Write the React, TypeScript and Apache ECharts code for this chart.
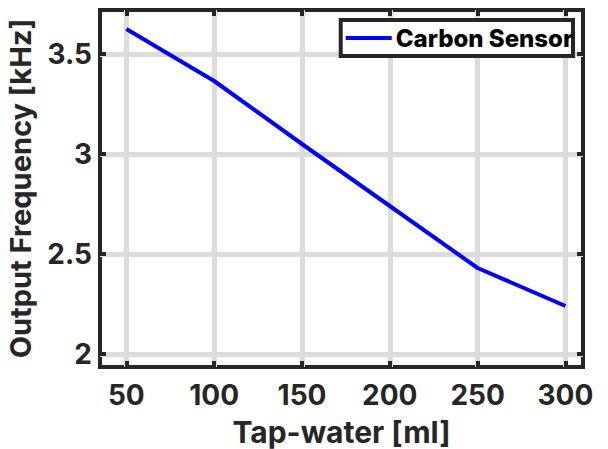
import React, { useEffect, useRef } from "react";
import * as echarts from "echarts";

const volumes = [50, 100, 150, 200, 250, 300];
const frequency = [3.625, 3.365, 3.05, 2.74, 2.43, 2.24];
const xTicks = [50, 100, 150, 200, 250, 300];
const yTicks = [2, 2.5, 3, 3.5];
const seriesName = "Carbon Sensor";

const FONT = "Inter";
const DARK = "#262626";
const GRID = "#dcdcdc";

export default function App() {
  const ref = useRef<HTMLDivElement>(null);
  useEffect(() => {
    const chart = echarts.init(ref.current!, null, { renderer: "svg" });
    const tick = (vals: number[]) => ({
      show: true,
      inside: true,
      length: 6,
      customValues: vals,
      lineStyle: { color: DARK, width: 4 },
    });
    chart.setOption({
      animation: false,
      backgroundColor: "#ffffff",
      grid: {
        left: 100,
        top: 10,
        width: 483,
        height: 357,
        show: true,
        borderColor: DARK,
        borderWidth: 4,
        backgroundColor: "transparent",
        outerBoundsMode: "none",
        containLabel: false,
      },
      legend: {
        data: [{ name: seriesName, icon: "rect" }],
        right: 35,
        top: 20,
        itemWidth: 46,
        itemHeight: 4,
        itemGap: 4,
        padding: [6, 0, 6, 5],
        borderColor: DARK,
        borderWidth: 4,
        backgroundColor: "#ffffff",
        borderRadius: 0,
        textStyle: { fontFamily: FONT, fontWeight: 800, fontSize: 24, color: "#000", padding: [0, 0, 0, -1] },
      },
      xAxis: [
        {
          type: "value",
          min: 35,
          max: 310,
          name: "Tap-water [ml]",
          nameLocation: "middle",
          nameGap: 50,
          nameTextStyle: { fontFamily: FONT, fontWeight: "bold", fontSize: 30, color: DARK },
          axisLine: { show: false },
          axisTick: tick(xTicks),
          axisLabel: {
            customValues: xTicks,
            margin: 14,
            fontFamily: FONT,
            fontWeight: "bold",
            fontSize: 28,
            color: DARK,
          },
          splitLine: { show: true, lineStyle: { color: GRID, width: 5 } },
        },
        {
          type: "value",
          position: "top",
          min: 35,
          max: 310,
          axisLine: { show: false },
          axisTick: tick(xTicks),
          axisLabel: { show: false, customValues: xTicks },
          splitLine: { show: false },
        },
      ],
      yAxis: [
        {
          type: "value",
          min: 1.935,
          max: 3.72,
          name: "Output Frequency [kHz]",
          nameLocation: "middle",
          nameGap: 65,
          nameTextStyle: { fontFamily: FONT, fontWeight: "bold", fontSize: 29, color: DARK },
          axisLine: { show: false },
          axisTick: tick(yTicks),
          axisLabel: {
            customValues: yTicks,
            margin: 8,
            fontFamily: FONT,
            fontWeight: "bold",
            fontSize: 28,
            color: DARK,
            formatter: (v: number) => String(v),
          },
          splitLine: { show: true, lineStyle: { color: GRID, width: 5 } },
        },
        {
          type: "value",
          position: "right",
          min: 1.935,
          max: 3.72,
          axisLine: { show: false },
          axisTick: tick(yTicks),
          axisLabel: { show: false, customValues: yTicks },
          splitLine: { show: false },
        },
      ],
      series: [
        {
          name: seriesName,
          type: "line",
          data: volumes.map((v, i) => [v, frequency[i]]),
          symbol: "none",
          lineStyle: { color: "#0000ff", width: 4 },
          itemStyle: { color: "#0000ff" },
          z: 3,
        },
      ],
    });
    return () => chart.dispose();
  }, []);
  return (
    <div
      ref={ref}
      style={{ position: "fixed", left: 0, top: 0, width: 608, height: 449, background: "#fff" }}
    />
  );
}
